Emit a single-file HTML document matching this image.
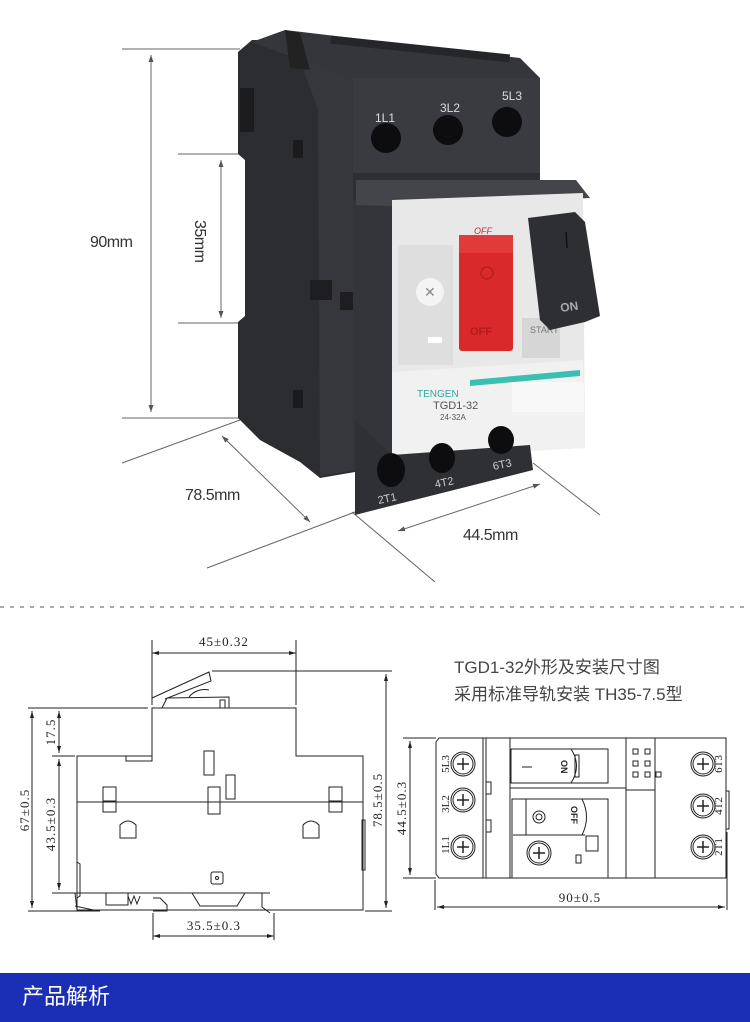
<!DOCTYPE html>
<html><head><meta charset="utf-8"><style>
html,body{margin:0;padding:0;background:#fff;}
svg{display:block;}
.dim{font-family:"Liberation Serif","Noto Serif CJK SC",serif;font-size:13px;fill:#222;letter-spacing:1px;}
</style></head><body>
<svg width="750" height="1022" viewBox="0 0 750 1022" xmlns="http://www.w3.org/2000/svg">
<defs>
<marker id="ah" markerWidth="8" markerHeight="8" refX="7" refY="4" orient="auto-start-reverse" markerUnits="userSpaceOnUse"><path d="M0,1.5 L7,4 L0,6.5 Z" fill="#555"/></marker>
<marker id="bh" markerWidth="8" markerHeight="6" refX="7" refY="3" orient="auto-start-reverse" markerUnits="userSpaceOnUse"><path d="M0,1 L7,3 L0,5 Z" fill="#222"/></marker>
</defs>
<rect width="750" height="1022" fill="#fff"/>

<!-- ===== PHOTO ===== -->
<g stroke="#666" stroke-width="1" fill="none">
<line x1="122" y1="49" x2="240" y2="49"/>
<line x1="178" y1="154" x2="240" y2="154"/>
<line x1="178" y1="323" x2="240" y2="323"/>
<line x1="122" y1="418" x2="240" y2="418"/>
<line x1="151" y1="55" x2="151" y2="412" marker-start="url(#ah)" marker-end="url(#ah)"/>
<line x1="221" y1="160" x2="221" y2="318" marker-start="url(#ah)" marker-end="url(#ah)"/>
<line x1="122" y1="463" x2="240" y2="420"/>
<line x1="207" y1="568" x2="355" y2="512"/>
<line x1="352" y1="512" x2="435" y2="582"/>
<line x1="533" y1="463" x2="600" y2="515"/>
<line x1="222" y1="436" x2="310" y2="522" marker-start="url(#ah)" marker-end="url(#ah)"/>
<line x1="398" y1="531" x2="540" y2="484" marker-start="url(#ah)" marker-end="url(#ah)"/>
</g>
<g font-family="Liberation Sans, sans-serif" font-size="16" fill="#333" letter-spacing="-0.5">
<text x="90" y="247">90mm</text>
<text x="185" y="500">78.5mm</text>
<text x="463" y="540">44.5mm</text>
<text transform="translate(195,220) rotate(90)">35mm</text>
</g>

<!-- side body -->
<path d="M238,52 L252,40 L300,40 L355,78 L355,472 L320,478 L300,462 L260,440 L238,418 L238,322 L245,316 L245,160 L238,154 Z" fill="#2c2d31"/>
<path d="M300,60 L355,78 L355,470 L320,476 L318,110 Z" fill="#36373c"/>
<rect x="240" y="88" width="14" height="44" fill="#1c1c1f"/>
<rect x="293" y="140" width="10" height="18" fill="#1b1b1d"/>
<rect x="293" y="390" width="10" height="18" fill="#1b1b1d"/>
<rect x="310" y="280" width="22" height="20" fill="#1e1e21"/>
<rect x="340" y="292" width="14" height="18" fill="#1e1e21"/>
<!-- top roof -->
<path d="M252,42 L285,30 L520,58 L540,78 L355,80 L300,60 Z" fill="#35363a"/>
<path d="M285,30 L300,33 L310,70 L290,68 Z" fill="#222"/>
<rect x="330" y="45" width="180" height="8" fill="#25262a" transform="rotate(6 420 50)"/>
<!-- top terminal front -->
<rect x="353" y="78" width="187" height="95" fill="#3a3b40"/>
<rect x="353" y="173" width="187" height="42" fill="#2e2f33"/>
<g fill="#0d0d0f">
<circle cx="386" cy="138" r="15"/><circle cx="448" cy="130" r="15"/><circle cx="507" cy="122" r="15"/>
</g>
<g font-family="Liberation Sans, sans-serif" font-size="12" fill="#ddd">
<text x="375" y="122">1L1</text><text x="440" y="112">3L2</text><text x="502" y="100">5L3</text>
</g>
<!-- front module dark block behind white panel -->
<path d="M353,200 L392,200 L392,470 L353,470 Z" fill="#34353a"/>
<path d="M356,180 L576,180 L590,198 L392,206 L356,205 Z" fill="#44454a"/>
<!-- white front -->
<path d="M392,200 L583,193 L585,448 L392,458 Z" fill="#e8e8e8"/>
<path d="M392,372 L583,360 L585,448 L392,458 Z" fill="#f1f1f1"/>
<rect x="398" y="245" width="55" height="120" fill="#dedede"/>
<circle cx="430" cy="292" r="14" fill="#f4f4f4"/>
<text x="424" y="297" font-family="Liberation Sans" font-size="14" fill="#888">✕</text>
<rect x="428" y="337" width="14" height="6" fill="#fff"/>
<rect x="522" y="318" width="38" height="40" fill="#d6d6d6"/>
<text x="530" y="333" font-family="Liberation Sans" font-size="9" fill="#777">START</text>
<!-- red button -->
<rect x="459" y="235" width="54" height="116" rx="3" fill="#d9292a"/>
<rect x="459" y="235" width="54" height="18" fill="#e23a3a"/>
<text x="474" y="234" font-family="Liberation Sans" font-style="italic" font-size="9" fill="#b33">OFF</text>
<circle cx="487" cy="273" r="6" fill="none" stroke="#b52020" stroke-width="1.5"/>
<text x="470" y="335" font-family="Liberation Sans" font-weight="bold" font-size="11" fill="#b51d1d">OFF</text>
<!-- black lever -->
<path d="M528,218 L575,212 L585,222 L600,316 L585,322 L550,330 L540,320 Z" fill="#2e2f32"/>
<line x1="566" y1="232" x2="567" y2="248" stroke="#111" stroke-width="1.5"/>
<text x="560" y="310" font-family="Liberation Sans" font-weight="bold" font-size="12" fill="#aaa" transform="rotate(-8 575 305)">ON</text>
<!-- teal + labels -->
<path d="M470,380 L580,370 L580,376 L470,386 Z" fill="#3bbfb0"/>
<text x="417" y="397" font-family="Liberation Sans" font-size="10" fill="#2fa8a0">TENGEN</text>
<rect x="512" y="382" width="72" height="30" fill="#f8f8f8"/>
<text x="433" y="409" font-family="Liberation Sans" font-size="11" fill="#555">TGD1-32</text>
<text x="440" y="420" font-family="Liberation Sans" font-size="8" fill="#555">24-32A</text>
<!-- bottom terminal -->
<path d="M355,420 L392,455 L530,445 L533,470 L355,515 Z" fill="#2f3034"/>
<g fill="#0d0d0f">
<ellipse cx="391" cy="470" rx="14" ry="17"/><ellipse cx="442" cy="458" rx="13" ry="15"/><ellipse cx="501" cy="440" rx="13" ry="14"/>
</g>
<g font-family="Liberation Sans" font-size="11" fill="#ccc">
<text x="378" y="502" transform="rotate(-12 388 500)">2T1</text>
<text x="435" y="486" transform="rotate(-12 445 484)">4T2</text>
<text x="493" y="468" transform="rotate(-12 503 466)">6T3</text>
</g>

<!-- dashed separator -->
<line x1="0" y1="607" x2="750" y2="607" stroke="#555" stroke-width="1" stroke-dasharray="4,6"/>

<!-- ===== LEFT DRAWING ===== -->
<g stroke="#222" stroke-width="1" fill="none">
<path d="M152,708 L152,756 L77,756 L77,910 L363,910 L363,756 L296,756 L296,708 Z"/>
<line x1="77" y1="802" x2="363" y2="802"/>
<path d="M152,698 L209,672 L211,681 L165,699"/>
<path d="M162,708 L167,698 L229,697 L229,708"/>
<path d="M189,697 A20,20 0 0 1 209,690"/>
<rect x="220" y="700" width="5" height="8"/>
<rect x="126" y="756" width="26" height="5"/>
<rect x="204" y="751" width="10" height="24"/>
<rect x="226" y="775" width="9" height="24"/>
<rect x="208" y="787" width="12" height="27"/>
<rect x="103" y="787" width="13" height="14"/>
<rect x="329" y="787" width="13" height="14"/>
<rect x="103" y="802" width="13" height="10"/>
<rect x="329" y="802" width="13" height="10"/>
<path d="M120,838 L120,825 Q128,817 136,825 L136,838 Z"/>
<path d="M303,838 L303,825 Q311,817 319,825 L319,838 Z"/>
<rect x="211" y="872" width="12" height="12" rx="2"/>
<circle cx="217" cy="878" r="1.5"/>
<path d="M77,898 L80,896 L80,864 L77,862"/>
<path d="M75,893 L77,910 L98,911 L75,906"/>
<rect x="106" y="893" width="22" height="12"/>
<path d="M128,896 l3,8 l3,-8 l3,8 l3,-8"/>
<path d="M52,893 L270,893"/>
<path d="M153,898 L160,898 L167,905 L167,911 L153,911"/>
<path d="M192,893 L200,906 L237,906 L245,893"/>
<path d="M262,893 L262,907 L270,913"/>
<rect x="362" y="820" width="3" height="50"/>
<!-- dim lines -->
<line x1="152" y1="640" x2="152" y2="705"/>
<line x1="296" y1="640" x2="296" y2="705"/>
<line x1="152" y1="653" x2="296" y2="653" marker-start="url(#bh)" marker-end="url(#bh)"/>
<line x1="212" y1="671" x2="392" y2="671"/>
<line x1="28" y1="708" x2="148" y2="708"/>
<line x1="52" y1="756" x2="75" y2="756"/>
<line x1="28" y1="911" x2="100" y2="911"/>
<line x1="32" y1="711" x2="32" y2="908" marker-start="url(#bh)" marker-end="url(#bh)"/>
<line x1="59" y1="711" x2="59" y2="753" marker-start="url(#bh)" marker-end="url(#bh)"/>
<line x1="59" y1="759" x2="59" y2="890" marker-start="url(#bh)" marker-end="url(#bh)"/>
<line x1="365" y1="911" x2="392" y2="911"/>
<line x1="386" y1="674" x2="386" y2="908" marker-start="url(#bh)" marker-end="url(#bh)"/>
<line x1="153" y1="913" x2="153" y2="940"/>
<line x1="274" y1="913" x2="274" y2="940"/>
<line x1="153" y1="936" x2="274" y2="936" marker-start="url(#bh)" marker-end="url(#bh)"/>
</g>
<text class="dim" x="224" y="646" text-anchor="middle">45±0.32</text>
<text class="dim" x="214" y="930" text-anchor="middle">35.5±0.3</text>
<text class="dim" transform="translate(29,810) rotate(-90)" text-anchor="middle">67±0.5</text>
<text class="dim" transform="translate(55,732) rotate(-90)" text-anchor="middle">17.5</text>
<text class="dim" transform="translate(55,824) rotate(-90)" text-anchor="middle">43.5±0.3</text>
<text class="dim" transform="translate(382,800) rotate(-90)" text-anchor="middle">78.5±0.5</text>

<!-- ===== TITLE ===== -->
<g font-family="Liberation Sans, Noto Sans CJK SC, sans-serif" font-size="17" fill="#444">
<text x="454" y="673">TGD1-32外形及安装尺寸图</text>
<text x="454" y="700">采用标准导轨安装 TH35-7.5型</text>
</g>

<!-- ===== RIGHT DRAWING ===== -->
<g stroke="#222" stroke-width="1" fill="none">
<path d="M439,738 L726,738 L726,878 L439,878 L436,874 L436,742 Z"/>
<line x1="483" y1="738" x2="483" y2="878"/>
<line x1="486" y1="738" x2="486" y2="878"/>
<line x1="510" y1="738" x2="510" y2="878"/>
<line x1="626" y1="738" x2="626" y2="878"/>
<line x1="655" y1="738" x2="655" y2="878"/>
<line x1="510" y1="788" x2="626" y2="788"/>
<line x1="626" y1="790" x2="655" y2="790"/>
<rect x="486" y="782" width="5" height="12"/>
<rect x="486" y="820" width="5" height="12"/>
<rect x="511" y="749" width="97" height="34"/>
<path d="M571,749 Q582,766 571,783"/>
<rect x="575" y="755" width="4" height="22"/>
<line x1="522" y1="767" x2="532" y2="767"/>
<path d="M512,878 L512,799 L608,799 L608,878"/>
<line x1="526" y1="799" x2="526" y2="835"/>
<line x1="513" y1="835" x2="585" y2="835"/>
<path d="M582,799 Q591,817 582,835"/>
<circle cx="539" cy="817" r="6"/><circle cx="539" cy="817" r="3"/>
<rect x="586" y="836" width="12" height="15"/>
<rect x="576" y="855" width="5" height="8"/>
<rect x="726" y="791" width="3" height="38"/>
<g>
<rect x="633" y="749" width="5" height="5"/><rect x="645" y="749" width="5" height="5"/>
<rect x="633" y="761" width="5" height="5"/><rect x="645" y="761" width="5" height="5"/>
<rect x="633" y="772" width="5" height="5"/><rect x="645" y="772" width="5" height="5"/><rect x="656" y="772" width="5" height="5"/>
</g>
<g>
<circle cx="463" cy="764" r="12"/><circle cx="463" cy="764" r="10"/>
<circle cx="463" cy="800" r="12"/><circle cx="463" cy="800" r="10"/>
<circle cx="463" cy="847" r="12"/><circle cx="463" cy="847" r="10"/>
<circle cx="539" cy="853" r="12"/><circle cx="539" cy="853" r="10"/>
<circle cx="703" cy="764" r="12"/><circle cx="703" cy="764" r="10"/>
<circle cx="703" cy="806" r="12"/><circle cx="703" cy="806" r="10"/>
<circle cx="703" cy="847" r="12"/><circle cx="703" cy="847" r="10"/>
</g>
<g stroke-width="1.5">
<path d="M457,764 h12 M463,758 v12 M457,800 h12 M463,794 v12 M457,847 h12 M463,841 v12 M533,853 h12 M539,847 v12 M697,764 h12 M703,758 v12 M697,806 h12 M703,800 v12 M697,847 h12 M703,841 v12"/>
</g>
<line x1="403" y1="738" x2="436" y2="738"/>
<line x1="403" y1="878" x2="436" y2="878"/>
<line x1="410" y1="741" x2="410" y2="875" marker-start="url(#bh)" marker-end="url(#bh)"/>
<line x1="435" y1="880" x2="435" y2="910"/>
<line x1="727" y1="832" x2="727" y2="910"/>
<line x1="437" y1="907" x2="725" y2="907" marker-start="url(#bh)" marker-end="url(#bh)"/>
</g>
<text class="dim" transform="translate(406,808) rotate(-90)" text-anchor="middle">44.5±0.3</text>
<text class="dim" x="580" y="902" text-anchor="middle">90±0.5</text>
<g class="dim" style="font-size:11px;letter-spacing:0">
<text transform="translate(449,764) rotate(-90)" text-anchor="middle">5L3</text>
<text transform="translate(449,804) rotate(-90)" text-anchor="middle">3L2</text>
<text transform="translate(449,845) rotate(-90)" text-anchor="middle">1L1</text>
<text transform="translate(722,764) rotate(-90)" text-anchor="middle">6T3</text>
<text transform="translate(722,806) rotate(-90)" text-anchor="middle">4T2</text>
<text transform="translate(722,847) rotate(-90)" text-anchor="middle">2T1</text>
</g>
<g font-family="Liberation Sans" font-weight="bold" font-size="9" fill="#222">
<text transform="translate(561,760) rotate(90)">ON</text>
<text transform="translate(571,806) rotate(90)">OFF</text>
</g>

<!-- ===== BOTTOM BAR ===== -->
<rect x="0" y="973" width="750" height="49" fill="#1a2fb5"/>
<text x="22" y="1004" font-family="Liberation Sans, Noto Sans CJK SC, sans-serif" font-size="22" fill="#fff">产品解析</text>
</svg>
</body></html>
